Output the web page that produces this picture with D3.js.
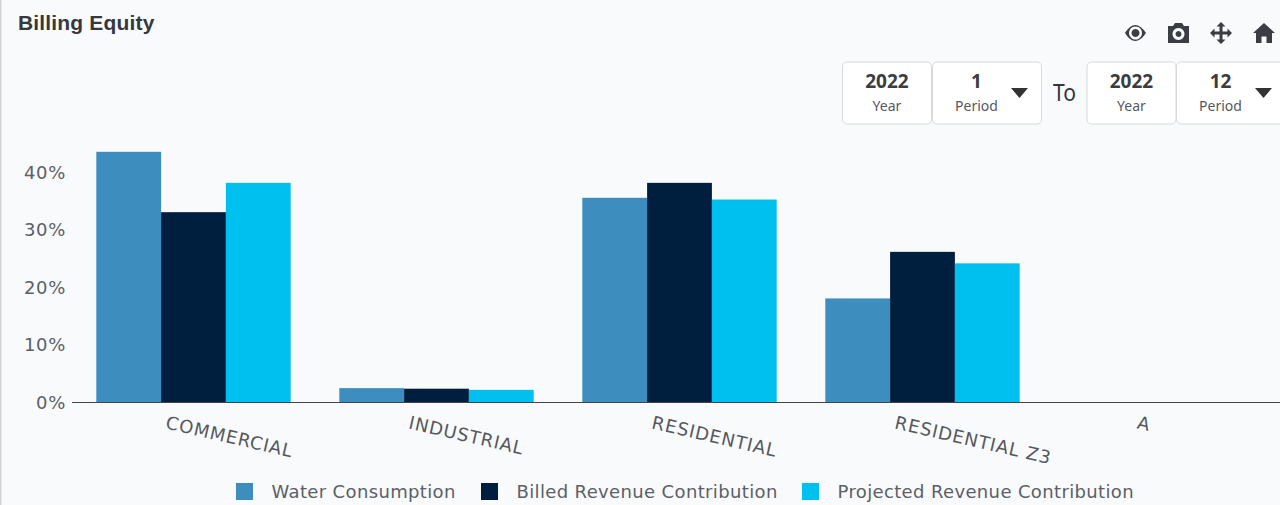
<!DOCTYPE html>
<html><head><meta charset="utf-8">
<script src="https://cdnjs.cloudflare.com/ajax/libs/d3/7.8.5/d3.min.js"></script>
<style>
html,body{margin:0;padding:0;background:#f9fafc;overflow:hidden}
svg{display:block}
text{font-family:"DejaVu Sans",sans-serif}
</style></head><body><svg id="c" width="1280" height="505"></svg>
<script>
const categories=["COMMERCIAL","INDUSTRIAL","RESIDENTIAL","RESIDENTIAL Z3","A"];
const seriesNames=["Water Consumption","Billed Revenue Contribution","Projected Revenue Contribution"];
const seriesColors=["#3d8dbf","#001f3f","#00c0f0"];
const waterConsumption=[43.6,2.5,35.6,18.1,0];
const billedRevenue=[33.1,2.4,38.2,26.2,0];
const projectedRevenue=[38.2,2.2,35.3,24.2,0];
const yTicks=[0,10,20,30,40];
const seriesValues=[waterConsumption,billedRevenue,projectedRevenue];

const svg=d3.select("#c");
svg.append("rect").attr("x",0).attr("y",0).attr("width",1.5).attr("height",505).attr("fill","#d2d3d6");
svg.append("text").attr("x",18).attr("y",30).text("Billing Equity")
 .style("font-family","'Liberation Sans',sans-serif").style("font-weight",700).style("font-size","21px").style("letter-spacing","0.17px").attr("fill","#35383c");

const x=d3.scaleBand().domain(categories).range([72,1287]).paddingInner(0.2).paddingOuter(0.1);
const x1=d3.scaleBand().domain(d3.range(3)).range([0,x.bandwidth()]);
const y=d3.scaleLinear().domain([0,40]).range([402.5,172.5]);

const grp=svg.selectAll("g.s").data(seriesValues).join("g").attr("fill",(d,i)=>seriesColors[i]);
grp.each(function(vals,i){
 d3.select(this).selectAll("rect").data(vals).join("rect")
  .attr("x",(d,j)=>x(categories[j])+x1(i)).attr("width",x1.bandwidth())
  .attr("y",d=>y(d)).attr("height",d=>y(0)-y(d));
});
const ax=svg.append("g").attr("transform","translate(0,402.5)").call(d3.axisBottom(x).tickSize(0).tickFormat(""));
ax.select(".domain").attr("stroke","#444").attr("d","M72,0H1280");
const ay=svg.append("g").attr("transform","translate(72,0)").call(d3.axisLeft(y).tickValues(yTicks).tickSize(0).tickFormat(d=>d+"%"));
ay.select(".domain").remove();
ay.selectAll("text").attr("x",-6).style("font-size","18px").style("letter-spacing","0.7px").attr("fill","#5a6068").style("font-family","'DejaVu Sans',sans-serif");

svg.selectAll("text.cat").data(categories).join("text").attr("class","cat")
 .attr("transform",d=>`translate(${x(d)+x.bandwidth()/2-25},${412.5}) rotate(13)`)
 .attr("dy","0.9em").attr("x",d=>d==="A"?6:0).text(d=>d)
 .style("font-size","18px").style("letter-spacing","0.9px").attr("fill","#55595f").attr("text-anchor",d=>d==="A"?"middle":"start");

const legX=[236,481,802];
const leg=svg.selectAll("g.l").data(seriesNames).join("g").attr("transform",(d,i)=>`translate(${legX[i]},483)`);
leg.append("rect").attr("width",17).attr("height",17).attr("fill",(d,i)=>seriesColors[i]);
leg.append("text").attr("x",35.5).attr("y",15).text(d=>d).style("font-size","18px").style("letter-spacing","0.36px").attr("fill","#5a6068");

const ic="#3a3d42";
svg.append("path").attr("fill",ic).attr("fill-rule","evenodd")
 .attr("d","M1125,33 Q1135,17 1146,33 Q1135,49 1125,33Z M1135.500,26.500 a6.500,6.500 0 1,0 .01,0Z M1135.500,29 a4,4 0 1,1 -.01,0Z");
svg.append("path").attr("fill",ic).attr("fill-rule","evenodd")
 .attr("d","M1168,26 h5 l2,-3 h7 l2,3 h5 v17 h-21Z M1178.500,28 a6,6 0 1,0 .01,0Z M1178.500,31 a3,3 0 1,1 -.01,0Z");
svg.append("path").attr("fill",ic)
 .attr("d","M1221,22 l4.500,4.500 h-3 v5 h5 v-3 l4.500,4.500 -4.500,4.500 v-3 h-5 v5 h3 l-4.500,4.500 -4.500,-4.500 h3 v-5 h-5 v3 l-4.500,-4.500 4.500,-4.500 v3 h5 v-5 h-3Z");
svg.append("path").attr("fill",ic)
 .attr("d","M1264,23 l11,10 h-3 v10 h-5.500 v-6.500 h-5 v6.500 h-5.500 v-10 h-3Z");

const boxes=[[842.5,89,"2022","Year",false],[932.5,109,"1","Period",true],[1087,89,"2022","Year",false],[1176.5,109,"12","Period",true]];
const b=svg.selectAll("g.b").data(boxes).join("g").attr("transform",d=>`translate(${d[0]},62)`);
b.append("rect").attr("width",d=>d[1]).attr("height",62).attr("rx",4.5).attr("fill","#fff").attr("stroke","#d7d9dd");
const cx=d=>d[4]?44:d[1]/2;
b.append("text").attr("x",cx).attr("y",26).attr("text-anchor","middle").text(d=>d[2])
 .style("font-family","'Noto Sans',sans-serif").style("font-weight",700).style("font-size","19px").attr("fill","#3a3d42");
b.append("text").attr("x",cx).attr("y",49).attr("text-anchor","middle").text(d=>d[3])
 .style("font-family","'Noto Sans',sans-serif").style("font-size","14px").attr("fill","#55595f");
b.filter(d=>d[4]).append("path").attr("fill","#333").attr("d","M78.500,26 h17 l-8.500,10Z");
svg.append("text").attr("x",0).attr("y",0).attr("transform","translate(1064.500,101) scale(0.92,1.05)").attr("text-anchor","middle").text("To")
 .style("font-family","'Noto Sans',sans-serif").style("font-size","23px").attr("fill","#33363a");
</script></body></html>
